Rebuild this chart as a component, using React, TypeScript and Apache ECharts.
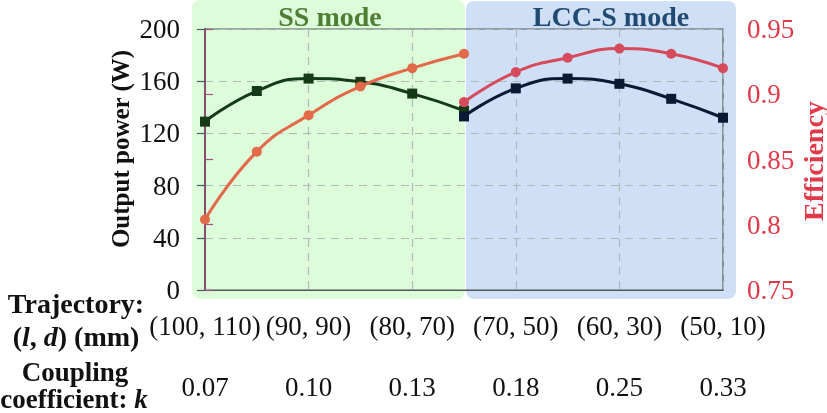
import { useEffect, useRef } from "react";
import * as echarts from "echarts";

const trajectories = ["(100, 110)", "(90, 90)", "(80, 70)", "(70, 50)", "(60, 30)", "(50, 10)"];
const couplings = ["0.07", "0.10", "0.13", "0.18", "0.25", "0.33"];
const ssPositions = [0, 1, 2, 3, 4, 5];
const lccPositions = [5, 6, 7, 8, 9, 10];
const ssPower = [129, 152.5, 162, 159.5, 150.5, 137.5];
const lccPower = [133, 154.5, 162, 158, 146.5, 132];
const ssEff = [0.804, 0.856, 0.884, 0.906, 0.92, 0.931];
const lccEff = [0.894, 0.917, 0.928, 0.935, 0.931, 0.92];
const powerTicks = [0, 40, 80, 120, 160, 200];
const effTicks = [0.75, 0.8, 0.85, 0.9, 0.95];

const FONT = "'Liberation Serif', 'Times New Roman', serif";

function pairs(xs: number[], ys: number[]) {
  return xs.map((x, i) => [x, ys[i]]);
}

export default function App() {
  const ref = useRef<HTMLDivElement>(null);
  useEffect(() => {
    document.body.style.margin = "0";
    const chart = echarts.init(ref.current!, null, { renderer: "svg" });
    const labelFmt = (arr: string[]) => (v: number) => {
      const i = Math.round(v / 2);
      return arr[i] ?? "";
    };
    chart.setOption({
      animation: false,
      grid: {
        left: 205,
        right: 104,
        top: 29,
        bottom: 123,
        show: true,
        borderColor: "#4e5a5a",
        borderWidth: 1.2,
        backgroundColor: "transparent",
      },
      xAxis: [
        {
          type: "value",
          min: 0,
          max: 10,
          interval: 2,
          position: "bottom",
          axisLine: { show: true, lineStyle: { color: "#4e5a5a", width: 1.2 } },
          axisTick: { show: false },
          splitLine: { show: true, lineStyle: { color: "#b3b8bc", type: [8, 6], width: 1.2 } },
          axisLabel: {
            formatter: labelFmt(trajectories),
            margin: 22,
            color: "#111",
            fontFamily: FONT,
            fontSize: 27,
          },
        },
        {
          type: "value",
          min: 0,
          max: 10,
          interval: 2,
          position: "bottom",
          offset: 62,
          axisLine: { show: false },
          axisTick: { show: false },
          splitLine: { show: false },
          axisLabel: {
            formatter: labelFmt(couplings),
            margin: 21,
            color: "#111",
            fontFamily: FONT,
            fontSize: 27,
          },
        },
      ],
      yAxis: [
        {
          type: "value",
          min: powerTicks[0],
          max: powerTicks[powerTicks.length - 1],
          interval: powerTicks[1] - powerTicks[0],
          position: "left",
          axisLine: { show: true, lineStyle: { color: "#0f1f10", width: 1.5 } },
          axisTick: { show: true, length: 8, lineStyle: { color: "#4e5a5a", width: 1.2 } },
          splitLine: { show: true, lineStyle: { color: "#b3b8bc", type: [8, 6], width: 1.2 } },
          axisLabel: { margin: 25, color: "#111", fontFamily: FONT, fontSize: 27 },
        },
        {
          type: "value",
          min: effTicks[0],
          max: effTicks[effTicks.length - 1],
          interval: 0.05,
          position: "right",
          axisLine: { show: true, lineStyle: { color: "#a4547f", width: 1.5 } },
          axisTick: { show: true, length: 8, lineStyle: { color: "#a4547f", width: 1.2 } },
          splitLine: { show: false },
          axisLabel: {
            margin: 24,
            color: "#e03a4a",
            fontFamily: FONT,
            fontSize: 27,
            formatter: (v: number) => String(Math.round(v * 100) / 100),
          },
        },
      ],
      graphic: [
        {
          type: "rect",
          z: -10,
          shape: { x: 192, y: 0, width: 273, height: 299, r: 8 },
          style: { fill: "#dcfcda" },
        },
        {
          type: "rect",
          z: -10,
          shape: { x: 466, y: 1, width: 270, height: 298, r: 8 },
          style: { fill: "#cfe0f6" },
        },
        {
          type: "text",
          x: 330,
          y: 16,
          style: {
            text: "SS mode",
            fill: "#4e7e34",
            font: `bold 28px ${FONT}`,
            align: "center",
            verticalAlign: "middle",
          },
        },
        {
          type: "text",
          x: 611,
          y: 16,
          style: {
            text: "LCC-S mode",
            fill: "#1f4a72",
            font: `bold 28px ${FONT}`,
            align: "center",
            verticalAlign: "middle",
          },
        },
        {
          type: "text",
          x: 120,
          y: 149,
          rotation: Math.PI / 2,
          style: {
            text: "Output power (W)",
            fill: "#111",
            font: `bold 25px ${FONT}`,
            align: "center",
            verticalAlign: "middle",
          },
        },
        {
          type: "text",
          x: 813,
          y: 161,
          rotation: Math.PI / 2,
          style: {
            text: "Efficiency",
            fill: "#e03a4a",
            font: `bold 28px ${FONT}`,
            align: "center",
            verticalAlign: "middle",
          },
        },
        {
          type: "text",
          x: 76,
          y: 303,
          style: {
            text: "Trajectory:",
            fill: "#111",
            font: `bold 28px ${FONT}`,
            align: "center",
            verticalAlign: "middle",
          },
        },
        {
          type: "text",
          x: 76,
          y: 336,
          style: {
            text: "{n|(}{i|l}{n|, }{i|d}{n|) (mm)}",
            fill: "#111",
            align: "center",
            verticalAlign: "middle",
            rich: {
              n: { font: `bold 28px ${FONT}`, fill: "#111" },
              i: { font: `italic bold 28px ${FONT}`, fill: "#111" },
            },
          },
        },
        {
          type: "text",
          x: 75,
          y: 372,
          style: {
            text: "Coupling",
            fill: "#111",
            font: `bold 27px ${FONT}`,
            align: "center",
            verticalAlign: "middle",
          },
        },
        {
          type: "text",
          x: 74,
          y: 399,
          style: {
            text: "{n|coefficient: }{i|k}",
            fill: "#111",
            align: "center",
            verticalAlign: "middle",
            rich: {
              n: { font: `bold 27px ${FONT}`, fill: "#111" },
              i: { font: `italic bold 27px ${FONT}`, fill: "#111" },
            },
          },
        },
      ],
      series: [
        {
          name: "SS power",
          type: "line",
          xAxisIndex: 0,
          yAxisIndex: 0,
          data: pairs(ssPositions, ssPower),
          smooth: 0.5,
          symbol: "rect",
          symbolSize: 10,
          lineStyle: { color: "#143b16", width: 3 },
          itemStyle: { color: "#143b16" },
          z: 3,
        },
        {
          name: "LCC-S power",
          type: "line",
          xAxisIndex: 0,
          yAxisIndex: 0,
          data: pairs(lccPositions, lccPower),
          smooth: 0.5,
          symbol: "rect",
          symbolSize: 10,
          lineStyle: { color: "#0b1a33", width: 3 },
          itemStyle: { color: "#0b1a33" },
          z: 3,
        },
        {
          name: "SS efficiency",
          type: "line",
          xAxisIndex: 0,
          yAxisIndex: 1,
          data: pairs(ssPositions, ssEff),
          smooth: 0.5,
          symbol: "circle",
          symbolSize: 10,
          lineStyle: { color: "#e2694a", width: 3 },
          itemStyle: { color: "#e2694a" },
          z: 4,
        },
        {
          name: "LCC-S efficiency",
          type: "line",
          xAxisIndex: 0,
          yAxisIndex: 1,
          data: pairs(lccPositions, lccEff),
          smooth: 0.5,
          symbol: "circle",
          symbolSize: 10,
          lineStyle: { color: "#d64a5c", width: 3 },
          itemStyle: { color: "#d64a5c" },
          z: 4,
        },
      ],
    });
    return () => chart.dispose();
  }, []);
  return (
    <div
      ref={ref}
      style={{ position: "fixed", left: 0, top: 0, width: 827, height: 413 }}
    />
  );
}
